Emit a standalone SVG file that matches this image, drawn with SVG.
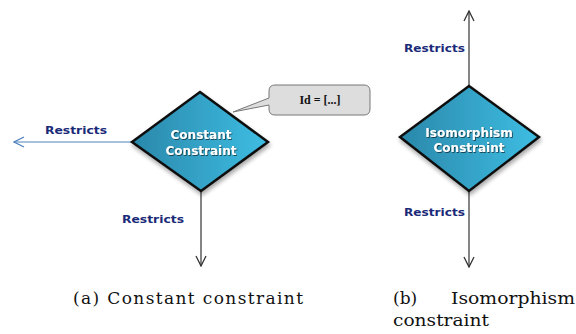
<svg xmlns="http://www.w3.org/2000/svg" width="576" height="334" viewBox="0 0 576 334">
<defs>
<linearGradient id="g" x1="0" y1="0" x2="1" y2="0">
<stop offset="0" stop-color="#2a88aa"/>
<stop offset="1" stop-color="#3ebde3"/>
</linearGradient>
<filter id="sh" x="-20%" y="-20%" width="150%" height="150%">
<feGaussianBlur in="SourceAlpha" stdDeviation="2"/>
<feOffset dx="1" dy="3" result="b"/>
<feComponentTransfer><feFuncA type="linear" slope="0.35"/></feComponentTransfer>
<feMerge><feMergeNode/><feMergeNode in="SourceGraphic"/></feMerge>
</filter>
<filter id="ts" x="-10%" y="-20%" width="120%" height="150%">
<feDropShadow dx="0.8" dy="0.8" stdDeviation="0.4" flood-color="#000" flood-opacity="0.7"/>
</filter>
<marker id="ab" viewBox="0 0 12 12" refX="11" refY="6" markerWidth="12" markerHeight="12" markerUnits="userSpaceOnUse" orient="auto">
<path d="M1,1 L11,6 L1,11" fill="none" stroke="#4f81bd" stroke-width="1.3"/>
</marker>
<marker id="ak" viewBox="0 0 12 12" refX="11" refY="6" markerWidth="12" markerHeight="12" markerUnits="userSpaceOnUse" orient="auto">
<path d="M1,1 L11,6 L1,11" fill="none" stroke="#333" stroke-width="1.3"/>
</marker>
</defs>
<style>
.dia{fill:url(#g);stroke:#111;stroke-width:2.5;stroke-linejoin:miter;filter:url(#sh)}
.dt{font-family:"DejaVu Sans",Verdana,sans-serif;font-weight:bold;font-size:12px;fill:#fff;text-anchor:middle;filter:url(#ts)}
.lbl{font-family:"DejaVu Sans",Verdana,sans-serif;font-weight:bold;font-size:11px;fill:#1a2a78}
.cap{font-family:"DejaVu Serif","Liberation Serif",serif;font-size:17px;fill:#111}
.cb{fill:#ddd;stroke:#777;stroke-width:1}
.ct{font-family:"Liberation Serif","DejaVu Serif",serif;font-weight:bold;font-size:12px;fill:#111;text-anchor:middle}
</style>
<g id="connectors">
<line x1="132" y1="142" x2="14" y2="142" stroke="#4f81bd" stroke-width="1.2" marker-end="url(#ab)"/>
<line x1="201" y1="191" x2="201" y2="266" stroke="#333" stroke-width="1.2" marker-end="url(#ak)"/>
<line x1="469" y1="86" x2="469" y2="11" stroke="#333" stroke-width="1.2" marker-end="url(#ak)"/>
<line x1="469" y1="191" x2="469" y2="267" stroke="#333" stroke-width="1.2" marker-end="url(#ak)"/>
<text class="lbl" x="45" y="134" textLength="62" lengthAdjust="spacingAndGlyphs">Restricts</text>
<text class="lbl" x="122" y="223" textLength="62" lengthAdjust="spacingAndGlyphs">Restricts</text>
<text class="lbl" x="404" y="52" textLength="61" lengthAdjust="spacingAndGlyphs">Restricts</text>
<text class="lbl" x="404" y="216" textLength="61" lengthAdjust="spacingAndGlyphs">Restricts</text>
</g>
<g id="callout">
<path class="cb" d="M275,85 H364 Q370,85 370,91 V109 Q370,115 364,115 H275 Q269,115 269,109 V105 L233,112 L269,98 V91 Q269,85 275,85 Z"/>
<text class="ct" x="320" y="104">Id = [...]</text>
</g>
<g id="constant">
<polygon class="dia" points="200,92 268,142 201,191 132,142"/>
<text class="dt" x="201" y="139">Constant</text>
<text class="dt" x="201" y="155">Constraint</text>
</g>
<g id="isomorphism">
<polygon class="dia" points="469,86 539,137 469,191 400,137"/>
<text class="dt" x="469" y="137">Isomorphism</text>
<text class="dt" x="469" y="152">Constraint</text>
</g>
<text class="cap" x="73" y="304" textLength="230" lengthAdjust="spacing">(a) Constant constraint</text>
<text class="cap" x="393" y="304">(b)</text>
<text class="cap" x="451" y="304" textLength="124" lengthAdjust="spacingAndGlyphs">Isomorphism</text>
<text class="cap" x="393" y="326" textLength="96" lengthAdjust="spacingAndGlyphs">constraint</text>
</svg>
